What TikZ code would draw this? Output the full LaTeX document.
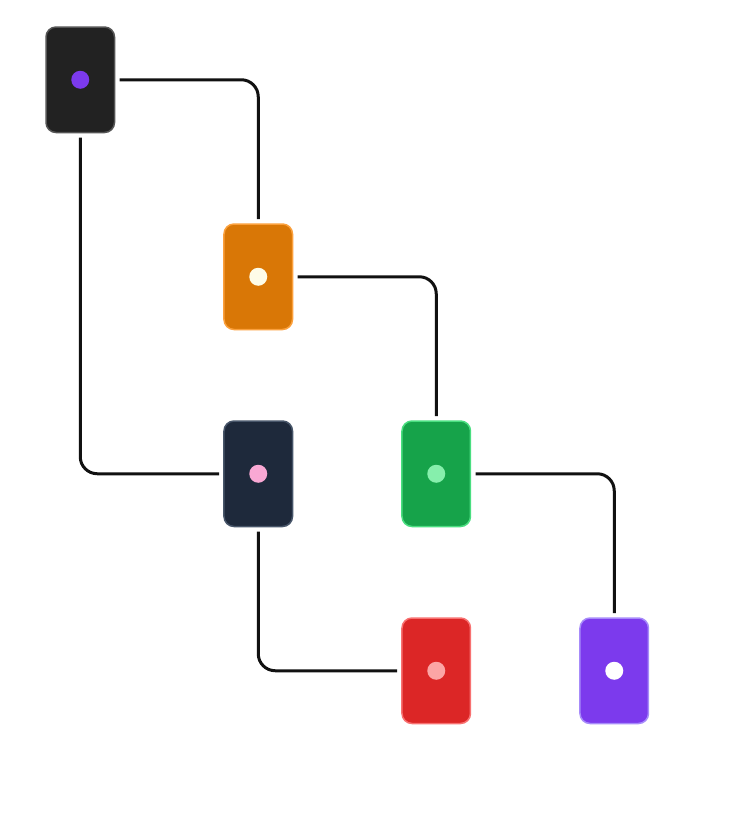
\documentclass[tikz,border=0pt]{standalone}
\usepackage{tikz}
\usetikzlibrary{matrix}

\definecolor{linkdark}{HTML}{111111}
\definecolor{blackfill}{HTML}{222222}
\definecolor{blackedge}{HTML}{555555}
\definecolor{orangefill}{HTML}{D97706}
\definecolor{orangeedge}{HTML}{FBA03C}
\definecolor{navyfill}{HTML}{1E293B}
\definecolor{navyedge}{HTML}{475569}
\definecolor{greenfill}{HTML}{16A34A}
\definecolor{greenedge}{HTML}{4ADE80}
\definecolor{redfill}{HTML}{DC2626}
\definecolor{rededge}{HTML}{F87171}
\definecolor{purplefill}{HTML}{7C3AED}
\definecolor{purpleedge}{HTML}{A78BFA}
\definecolor{dotcream}{HTML}{FEFCE8}
\definecolor{dotpink}{HTML}{F9A8D4}
\definecolor{dotgreen}{HTML}{86EFAC}
\definecolor{dotred}{HTML}{FCA5A5}

\tikzset{
  card/.style = {draw, line width = 1.5pt, rounded corners = 10pt, minimum width = 68.5pt, minimum height = 105.5pt, inner sep = 0pt, outer sep = 0pt},
  link/.style = {draw = linkdark, line width = 3pt, rounded corners = 17pt, shorten < = 5pt, shorten > = 5pt}
}

\begin{document}
\begin{tikzpicture}[x = 1pt, y = 1pt]
\useasboundingbox (0,0) rectangle (740,-820);
\matrix (m) [column sep = 108pt, row sep = 90pt, anchor = north west, inner sep = 0pt, outer sep = 0pt] at (45.25,-26.25) {
\node[card, fill = blackfill, draw = blackedge](x1){}; & & & \\
& \node[card, fill = orangefill, draw = orangeedge](x2){}; & & \\
& \node[card, fill = navyfill, draw = navyedge](y1){}; & \node[card, fill = greenfill, draw = greenedge](y2){}; & \\
& & \node[card, fill = redfill, draw = rededge](z1){}; & \node[card, fill = purplefill, draw = purpleedge](z2){}; \\
};
\fill[purplefill] (x1) circle (9pt);
\fill[dotcream] (x2) circle (9pt);
\fill[dotpink] (y1) circle (9pt);
\fill[dotgreen] (y2) circle (9pt);
\fill[dotred] (z1) circle (9pt);
\fill[white] (z2) circle (9pt);
\draw[link] (x1.east) -| (x2.north);
\draw[link] (x1.south) |- (y1.west);
\draw[link] (x2.east) -| (y2.north);
\draw[link] (y2.east) -| (z2.north);
\draw[link] (y1.south) |- (z1.west);
\end{tikzpicture}
\end{document}
